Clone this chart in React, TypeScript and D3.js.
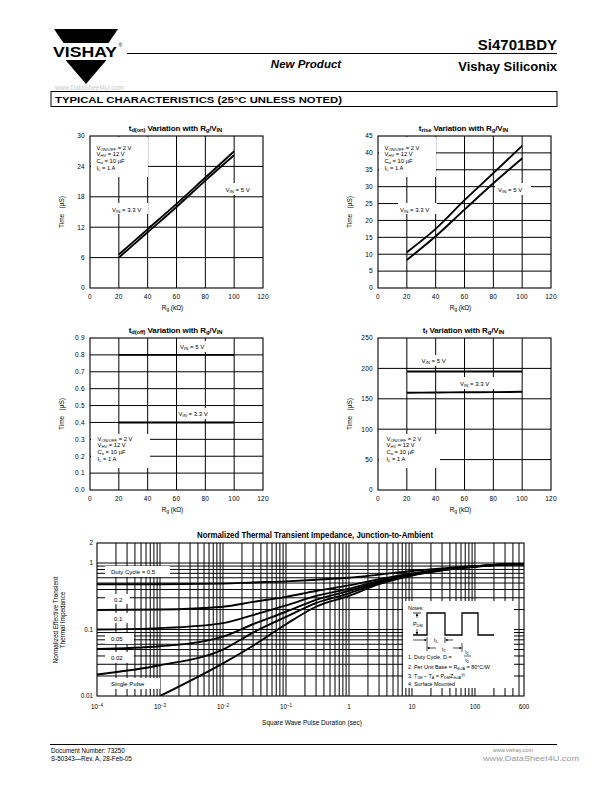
import React from "react";
import * as d3 from "d3";

const FONT = "'Liberation Sans', Arial, Helvetica, sans-serif";

// ---------- data ----------
const rgPoints = [20, 40, 60, 80, 100];
const rgTicks = [0, 20, 40, 60, 80, 100, 120];

const tdOnVin33 = [6.6, 11.6, 16.6, 21.8, 27.0];
const tdOnVin5 = [6.0, 11.0, 16.0, 21.2, 26.2];
const tdOnTicks = [0, 6, 12, 18, 24, 30];

const tRiseVin33 = [10.6, 17.5, 26.0, 34.0, 42.1];
const tRiseVin5 = [8.3, 15.3, 23.2, 31.0, 38.4];
const tRiseTicks = [0, 5, 10, 15, 20, 25, 30, 35, 40, 45];

const tdOffVin5 = [0.8, 0.8, 0.8, 0.8, 0.8];
const tdOffVin33 = [0.4, 0.4, 0.4, 0.4, 0.4];
const tdOffTicks = [0, 0.1, 0.2, 0.3, 0.4, 0.5, 0.6, 0.7, 0.8, 0.9];

const tfVin5 = [195, 195, 195, 195, 195];
const tfVin33 = [160, 160.3, 160.7, 161, 161.5];
const tfTicks = [0, 50, 100, 150, 200, 250];

const pulseDuration = [1e-4, 1e-3, 1e-2, 3e-2, 0.1, 0.3, 1, 3, 10, 30, 100, 300, 600];
const zDuty05 = [0.48, 0.48, 0.49, 0.51, 0.53, 0.56, 0.6, 0.67, 0.76, 0.83, 0.9, 0.95, 0.96];
const zDuty02 = [0.197, 0.2, 0.22, 0.26, 0.31, 0.38, 0.46, 0.57, 0.7, 0.8, 0.89, 0.95, 0.96];
const zDuty01 = [0.1, 0.105, 0.125, 0.165, 0.23, 0.32, 0.41, 0.54, 0.68, 0.79, 0.89, 0.95, 0.96];
const zDuty005 = [0.051, 0.056, 0.078, 0.12, 0.185, 0.28, 0.38, 0.52, 0.67, 0.79, 0.89, 0.95, 0.96];
const zDuty002 = [0.021, 0.029, 0.05, 0.09, 0.155, 0.25, 0.35, 0.5, 0.66, 0.78, 0.88, 0.95, 0.96];
const zSingle = [null, 0.01, 0.031, 0.057, 0.12, 0.22, 0.32, 0.48, 0.65, 0.78, 0.88, 0.95, 0.96];
const pulseTickValues = [1e-4, 1e-3, 1e-2, 1e-1, 1, 10, 100, 600];
const pulseTickLabels: Part[][] = [
  ["10", ["\u22124", "sup"]],
  ["10", ["\u22123", "sup"]],
  ["10", ["\u22122", "sup"]],
  ["10", ["\u22121", "sup"]],
  ["1"],
  ["10"],
  ["100"],
  ["600"],
];
const zTickValues = [0.01, 0.1, 1, 2];
const zTickLabels = ["0.01", "0.1", "1", "2"];

// ---------- helpers ----------
type Part = string | [string, "sub" | "sup"];

function Rich({ x, y, parts, size = 6, anchor = "start", weight = "normal", family = FONT, fill = "#000", transform, style, italic }: any) {
  return (
    <text
      x={x}
      y={y}
      fontSize={size}
      textAnchor={anchor}
      fontWeight={weight}
      fontFamily={family}
      fill={fill}
      transform={transform}
      fontStyle={italic ? "italic" : "normal"}
      style={{ whiteSpace: "pre", ...(style || {}) }}
    >
      {parts.map((p: Part, i: number) =>
        typeof p === "string" ? (
          <tspan key={i}>{p}</tspan>
        ) : (
          <tspan key={i} fontSize={size * 0.72} baselineShift={p[1] === "sub" ? -size * 0.18 : size * 0.38}>
            {p[0]}
          </tspan>
        )
      )}
    </text>
  );
}

const paramLines: Part[][] = [
  ["V", ["ON/OFF", "sub"], " = 2 V"],
  ["V", ["HV", "sub"], " = 12 V"],
  ["C", ["o", "sub"], " = 10 \u00b5F"],
  ["I", ["L", "sub"], " = 1 A"],
];

const vin = (v: string): Part[] => ["V", ["IN", "sub"], ` = ${v} V`];

const charts = [
  {
    left: 90, top: 136, yMax: 30, yTicks: tdOnTicks, fmt: (d: number) => String(d),
    sub: "d(on)",
    series: [tdOnVin33, tdOnVin5],
    masks: [[91, 137, 57, 40], [111, 203, 37, 11], [222, 183, 36, 12]],
    params: { x: 96.5, y: 149.5 },
    labels: [{ p: vin("3.3"), x: 112, y: 211.5 }, { p: vin("5"), x: 225.5, y: 191.5 }],
  },
  {
    left: 378, top: 136, yMax: 45, yTicks: tRiseTicks, fmt: (d: number) => String(d),
    sub: "rise",
    series: [tRiseVin33, tRiseVin5],
    masks: [[379, 137, 57, 40], [398, 203, 39, 11], [495, 183, 36, 12]],
    params: { x: 384.5, y: 149.5 },
    labels: [{ p: vin("3.3"), x: 400, y: 211.5 }, { p: vin("5"), x: 498, y: 191.5 }],
  },
  {
    left: 90, top: 338, yMax: 0.9, yTicks: tdOffTicks, fmt: (d: number) => d.toFixed(1),
    sub: "d(off)",
    series: [tdOffVin5, tdOffVin33],
    masks: [[91, 434, 59, 34], [178, 341, 34, 11], [177, 408, 38, 11]],
    params: { x: 97.5, y: 440.5 },
    labels: [{ p: vin("5"), x: 180, y: 349 }, { p: vin("3.3"), x: 178.5, y: 415.5 }],
  },
  {
    left: 378, top: 338, yMax: 250, yTicks: tfTicks, fmt: (d: number) => String(d),
    sub: "f",
    series: [tfVin5, tfVin33],
    masks: [[379, 434, 61, 34], [418, 355, 34, 11], [457, 377, 41, 12]],
    params: { x: 386.5, y: 440.5 },
    labels: [{ p: vin("5"), x: 421.5, y: 363 }, { p: vin("3.3"), x: 460, y: 385.5 }],
  },
];

function SmallChart({ cfg }: any) {
  const W = 173;
  const H = 152;
  const x = d3.scaleLinear().domain([0, 120]).range([cfg.left, cfg.left + W]);
  const y = d3.scaleLinear().domain([0, cfg.yMax]).range([cfg.top + H, cfg.top]);
  const line = d3
    .line<number>()
    .x((_, i) => x(rgPoints[i]))
    .y((d) => y(d))
    .curve(d3.curveMonotoneX);
  const cx = cfg.left + W / 2;
  const cy = cfg.top + H / 2;
  return (
    <g>
      <rect x={cfg.left} y={cfg.top} width={W} height={H} fill="#fff" />
      {rgTicks.slice(1, -1).map((t) => (
        <line key={"vx" + t} x1={x(t)} x2={x(t)} y1={cfg.top} y2={cfg.top + H} stroke="#000" strokeWidth={1} />
      ))}
      {cfg.yTicks.slice(1, -1).map((t: number) => (
        <line key={"hy" + t} x1={cfg.left} x2={cfg.left + W} y1={y(t)} y2={y(t)} stroke="#000" strokeWidth={1} />
      ))}
      {cfg.masks.map((m: number[], i: number) => (
        <rect key={"m" + i} x={m[0]} y={m[1]} width={m[2]} height={m[3]} fill="#fff" />
      ))}
      <rect x={cfg.left} y={cfg.top} width={W} height={H} fill="none" stroke="#000" strokeWidth={1.1} />
      {cfg.series.map((s: number[], i: number) => (
        <path key={"s" + i} d={line(s) || ""} fill="none" stroke="#000" strokeWidth={1.9} />
      ))}
      {/* ticks */}
      {rgTicks.map((t) => (
        <text key={"xt" + t} x={x(t)} y={cfg.top + H + 11} fontSize={6.5} fontFamily={FONT} textAnchor="middle" letterSpacing={0.3}>
          {t}
        </text>
      ))}
      {cfg.yTicks.map((t: number) => (
        <text key={"yt" + t} x={cfg.left - 5} y={y(t) + 2.3} fontSize={6.5} fontFamily={FONT} textAnchor="end" letterSpacing={0.3}>
          {cfg.fmt(t)}
        </text>
      ))}
      {/* title */}
      <Rich
        x={cx - 1}
        y={cfg.top - 5}
        size={8}
        anchor="middle"
        weight="bold"
        style={{ letterSpacing: "-0.1px" }}
        parts={["t", [cfg.sub, "sub"], " Variation with R", ["g", "sub"], "/V", ["IN", "sub"]]}
      />
      {/* axis labels */}
      <Rich x={cx - 4} y={cfg.top + H + 22} size={6.5} anchor="middle" parts={["R", ["g", "sub"], " (k\u03a9)"]} />
      <Rich
        x={0}
        y={0}
        size={6.5}
        anchor="middle"
        transform={`translate(${cfg.left - 26},${cy}) rotate(-90)`}
        parts={["Time   (\u00b5S)"]}
      />
      {/* params */}
      {paramLines.map((p, i) => (
        <Rich key={"p" + i} x={cfg.params.x} y={cfg.params.y + i * 6.9} size={5.8} parts={p} />
      ))}
      {cfg.labels.map((l: any, i: number) => (
        <Rich key={"l" + i} x={l.x} y={l.y} size={6.0} parts={l.p} />
      ))}
    </g>
  );
}

function ThermalChart() {
  const L = 97, R = 524, T = 543, B = 696;
  const x = d3.scaleLog().domain([1e-4, 600]).range([L, R]);
  const y = d3.scaleLog().domain([0.01, 2]).range([B, T]);
  const xGrid = x.ticks().filter((v) => v > 1e-4 && v < 600);
  const yGrid = y.ticks().filter((v) => v > 0.01 && v < 2);
  const line = d3
    .line<number | null>()
    .defined((d) => d !== null)
    .x((_, i) => x(pulseDuration[i]))
    .y((d) => y(d as number))
    .curve(d3.curveMonotoneX);
  const curves = [zDuty05, zDuty02, zDuty01, zDuty005, zDuty002, zSingle];
  const labelBoxes = [
    { box: [105, 566, 65, 11], x: 111, y: 573.5, t: "Duty Cycle = 0.5" },
    { box: [105, 594, 25, 10], x: 114, y: 601.5, t: "0.2" },
    { box: [105, 613, 25, 10], x: 114, y: 620.5, t: "0.1" },
    { box: [105, 633, 29, 11], x: 111, y: 640.5, t: "0.05" },
    { box: [105, 652, 29, 11], x: 111, y: 660, t: "0.02" },
    { box: [103, 678, 57, 11], x: 111, y: 686, t: "Single Pulse" },
  ];
  const ns = 5.4;
  return (
    <g>
      <rect x={L} y={T} width={R - L} height={B - T} fill="#fff" />
      {xGrid.map((v, i) => (
        <line key={"gx" + i} x1={x(v)} x2={x(v)} y1={T} y2={B} stroke="#000" strokeWidth={1} />
      ))}
      {yGrid.map((v, i) => (
        <line key={"gy" + i} x1={L} x2={R} y1={y(v)} y2={y(v)} stroke="#000" strokeWidth={1} />
      ))}
      {labelBoxes.map((b, i) => (
        <rect key={"lb" + i} x={b.box[0]} y={b.box[1]} width={b.box[2]} height={b.box[3]} fill="#fff" />
      ))}
      {/* notes box */}
      <rect x={403} y={601} width={111} height={87} fill="#fff" />
      <rect x={L} y={T} width={R - L} height={B - T} fill="none" stroke="#000" strokeWidth={1.1} />
      <clipPath id="thermClip">
        <rect x={L} y={T} width={R - L} height={B - T} />
      </clipPath>
      <g clipPath="url(#thermClip)">
        {curves.map((c, i) => (
          <path key={"c" + i} d={line(c) || ""} fill="none" stroke="#000" strokeWidth={1.9} />
        ))}
      </g>
      {labelBoxes.map((b, i) => (
        <text key={"lt" + i} x={b.x} y={b.y} fontSize={6} fontFamily={FONT}>
          {b.t}
        </text>
      ))}
      {/* notes content */}
      <text x={408} y={610} fontSize={ns} fontFamily={FONT}>Notes:</text>
      <line x1={413} x2={421} y1={613} y2={613} stroke="#000" strokeWidth={0.8} />
      <line x1={417} x2={417} y1={613.5} y2={618} stroke="#000" strokeWidth={0.7} />
      <path d="M417,613.5 l-1.3,2.5 h2.6 z" fill="#000" />
      <line x1={417} x2={417} y1={629} y2={634.5} stroke="#000" strokeWidth={0.7} />
      <path d="M417,634.5 l-1.3,-2.5 h2.6 z" fill="#000" />
      <Rich x={413} y={626} size={ns} parts={["P", ["DM", "sub"]]} />
      <polyline
        points="413,635 427,635 427,613 445,613 445,635 462,635 462,613 478,613 478,635 494,635"
        fill="none"
        stroke="#000"
        strokeWidth={1.3}
      />
      {/* t1 */}
      <line x1={413} x2={426} y1={640} y2={640} stroke="#000" strokeWidth={0.7} />
      <path d="M427,640 l-2.5,-1.2 v2.4 z" fill="#000" />
      <line x1={427} x2={427} y1={637} y2={651} stroke="#000" strokeWidth={0.7} />
      <line x1={445} x2={445} y1={637} y2={643} stroke="#000" strokeWidth={0.7} />
      <line x1={446} x2={453} y1={640} y2={640} stroke="#000" strokeWidth={0.7} />
      <path d="M445,640 l2.5,-1.2 v2.4 z" fill="#000" />
      <Rich x={434} y={642} size={ns} parts={["t", ["1", "sub"]]} />
      {/* t2 */}
      <line x1={428} x2={436} y1={648} y2={648} stroke="#000" strokeWidth={0.7} />
      <path d="M427,648 l2.5,-1.2 v2.4 z" fill="#000" />
      <line x1={453} x2={461} y1={648} y2={648} stroke="#000" strokeWidth={0.7} />
      <path d="M462,648 l-2.5,-1.2 v2.4 z" fill="#000" />
      <line x1={462} x2={462} y1={643} y2={652} stroke="#000" strokeWidth={0.7} />
      <Rich x={442} y={651} size={ns} parts={["t", ["2", "sub"]]} />
      {/* notes text */}
      <text x={408} y={659} fontSize={ns} fontFamily={FONT}>1. Duty Cycle, D =</text>
      <Rich x={467} y={654} size={ns} anchor="middle" parts={["t", ["1", "sub"]]} />
      <line x1={464} x2={471} y1={656} y2={656} stroke="#000" strokeWidth={0.6} />
      <Rich x={467} y={662} size={ns} anchor="middle" parts={["t", ["2", "sub"]]} />
      <Rich x={408} y={668.5} size={ns} parts={["2. Per Unit Base = R", ["thJA", "sub"], " = 80\u00b0C/W"]} />
      <Rich x={408} y={677.5} size={ns} parts={["3. T", ["JM", "sub"], " \u2212 T", ["A", "sub"], " = P", ["DM", "sub"], "Z", ["thJA", "sub"], ["(t)", "sup"]]} />
      <text x={408} y={686} fontSize={ns} fontFamily={FONT}>4. Surface Mounted</text>
      {/* ticks */}
      {pulseTickValues.map((v, i) => (
        <Rich key={"xl" + i} x={x(v)} y={709} size={6.3} anchor="middle" parts={pulseTickLabels[i]} />
      ))}
      {zTickValues.map((v, i) => (
        <text key={"yl" + i} x={L - 4} y={y(v) + 2.3} fontSize={6.3} fontFamily={FONT} textAnchor="end">
          {zTickLabels[i]}
        </text>
      ))}
      <text x={315} y={538} fontSize={8.6} fontWeight="bold" fontFamily={FONT} textAnchor="middle" textLength={236} lengthAdjust="spacingAndGlyphs">
        Normalized Thermal Transient Impedance, Junction-to-Ambient
      </text>
      <text x={312} y={725} fontSize={6.5} fontFamily={FONT} textAnchor="middle">
        Square Wave Pulse Duration (sec)
      </text>
      <text transform="translate(57.5,620) rotate(-90)" fontSize={6.4} fontFamily={FONT} textAnchor="middle">
        Normalized Effective Transient
      </text>
      <text transform="translate(65,620) rotate(-90)" fontSize={6.4} fontFamily={FONT} textAnchor="middle">
        Thermal Impedance
      </text>
    </g>
  );
}

function Header() {
  return (
    <g>
      {/* logo */}
      <polygon points="54,29 118,29 108.5,43 63.5,43" fill="#000" />
      <text x={53} y={57} fontSize={14.5} fontWeight="bold" fontFamily={FONT} textLength={64} lengthAdjust="spacingAndGlyphs">
        VISHAY
      </text>
      <text x={118.5} y={47} fontSize={5} fontFamily={FONT}>®</text>
      <polygon points="65.5,60 106.5,60 86,84" fill="#000" />
      <text x={55} y={90} fontSize={6.5} fontFamily={FONT} fill="#c8c8c8">www.DataSheet4U.com</text>
      <line x1={127} x2={557} y1={53.5} y2={53.5} stroke="#000" strokeWidth={1} />
      <text x={557} y={49.5} fontSize={15} fontWeight="bold" fontFamily={FONT} textAnchor="end">Si4701BDY</text>
      <text x={306} y={68} fontSize={11.5} fontWeight="bold" fontStyle="italic" fontFamily={FONT} textAnchor="middle">
        New Product
      </text>
      <text x={557} y={70.5} fontSize={13} fontWeight="bold" fontFamily={FONT} textAnchor="end">Vishay Siliconix</text>
      <rect x={51} y={91.5} width={506} height={15} fill="none" stroke="#000" strokeWidth={1} />
      <text x={55} y={102.5} fontSize={8.5} fontWeight="bold" fontFamily={FONT} textLength={287} lengthAdjust="spacingAndGlyphs">
        TYPICAL CHARACTERISTICS (25°C UNLESS NOTED)
      </text>
    </g>
  );
}

function Footer() {
  return (
    <g>
      <line x1={50} x2={557} y1={744.5} y2={744.5} stroke="#000" strokeWidth={1} />
      <text x={51} y={753} fontSize={6.3} fontFamily={FONT}>Document Number:  73250</text>
      <text x={51} y={761} fontSize={6.3} fontFamily={FONT}>S-50343—Rev. A, 28-Feb-05</text>
      <text x={533} y={752} fontSize={5.5} fontFamily={FONT} textAnchor="end" fill="#888">www.vishay.com</text>
      <text x={483} y={761} fontSize={8} fontFamily={FONT} fill="#999" textLength={96} lengthAdjust="spacingAndGlyphs">
        www.DataSheet4U.com
      </text>
    </g>
  );
}

export default function App() {
  return (
    <svg
      width={612}
      height={792}
      viewBox="0 0 612 792"
      style={{ position: "absolute", left: 0, top: 0, background: "#fff" }}
      xmlns="http://www.w3.org/2000/svg"
    >
      <rect x={0} y={0} width={612} height={792} fill="#fff" />
      <Header />
      {charts.map((c, i) => (
        <SmallChart key={i} cfg={c} />
      ))}
      <ThermalChart />
      <Footer />
    </svg>
  );
}
